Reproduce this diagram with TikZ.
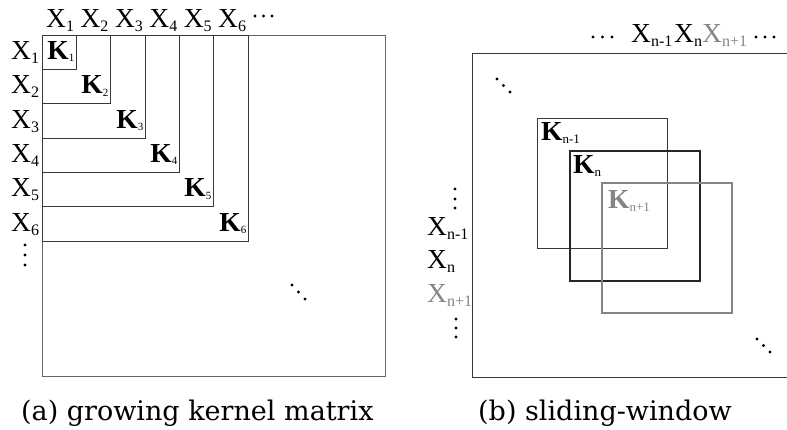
\documentclass[tikz,border=0pt]{standalone}
\usepackage{fontspec}
\newfontfamily\tmsfont{Liberation Serif}
\newfontfamily\capfont{DejaVu Serif}
\newcommand\Xlab[1]{X\raisebox{-4pt}{\fontsize{16}{16}\selectfont #1}}
\newcommand\Klab[1]{\textbf{K}\raisebox{-2.5pt}{\fontsize{11}{11}\selectfont #1}}
\newcommand\Klabb[1]{\textbf{K}\raisebox{-3pt}{\fontsize{13}{13}\selectfont #1}}
\definecolor{ln}{gray}{0.22}
\definecolor{lnlight}{gray}{0.4}
\definecolor{gr}{gray}{0.52}
\tikzset{
  lab/.style={font=\tmsfont\fontsize{27.5}{27.5}\selectfont, inner sep=0pt, anchor=base west},
  labe/.style={lab, anchor=base east},
  captext/.style={font=\capfont\fontsize{27}{27}\selectfont, inner sep=0pt, anchor=base west},
  dotc/.style={fill=black},
  nest/.style={draw=ln, line width=1.45pt},
  outer/.style={draw=lnlight, line width=1.45pt},
  winprev/.style={draw=ln, line width=1.2pt},
  wincur/.style={draw=black!85, line width=2.4pt},
  winnext/.style={draw=gr, line width=2pt}
}
\begin{document}
\begin{tikzpicture}[x=1pt,y=-1pt]
\useasboundingbox (0,0) rectangle (787,429);
% ---------- (a) growing kernel matrix ----------
\draw[outer] (42.5,35.5) rectangle (385.5,376.5);
\foreach \i in {1,...,6}{
  \pgfmathsetmacro\rgt{floor(42+34.4*\i)+0.5}
  \pgfmathsetmacro\bot{floor(35+34.4*\i)+0.5}
  \pgfmathsetmacro\bas{35+34.4*(\i-0.5)+7}
  \pgfmathsetmacro\tpos{46+34.4*(\i-1)}
  \draw[nest] (42.5,35.5) rectangle (\rgt,\bot);
  \node[lab] (top\i) at (\tpos,27) {\Xlab{\i}};
  \node[lab] (row\i) at (11,\bas) {\Xlab{\i}};
  \node[labe] (K\i) at (\rgt-2,\bas) {\Klab{\i}};
}
\foreach \x in {255,263.5,272}{\fill[dotc] (\x,16) circle (1.6pt);}
\foreach \y in {245,255,265}{\fill[dotc] (25,\y) circle (1.6pt);}
\fill[dotc] (292,285) circle (1.6pt);
\fill[dotc] (298.5,292) circle (1.6pt);
\fill[dotc] (305,299) circle (1.6pt);
\node[captext] (capa) at (21,420) {(a) growing kernel matrix};
% ---------- (b) sliding-window ----------
\draw[draw=ln, line width=1.45pt] (787,53.5) -- (472.5,53.5) -- (472.5,377.5) -- (787,377.5);
\draw[winprev] (537.5,118.5) rectangle (667.5,248.5);
\draw[wincur] (570,151) rectangle (700,281);
\draw[winnext] (602,183) rectangle (732,313);
\foreach \x in {593,602.5,612}{\fill[dotc] (\x,37) circle (1.6pt);}
\node[lab] (tXa) at (631,42) {\Xlab{n-1}};
\node[lab] (tXb) at (674,42) {\Xlab{n}};
\node[lab, text=gr] (tXc) at (702,42) {\Xlab{n+1}};
\foreach \x in {756,765,774}{\fill[dotc] (\x,37) circle (1.6pt);}
\node[lab] (lXa) at (427,235) {\Xlab{n-1}};
\node[lab] (lXb) at (427,268) {\Xlab{n}};
\node[lab, text=gr] (lXc) at (427,302) {\Xlab{n+1}};
\foreach \y in {189,199,208}{\fill[dotc] (455,\y) circle (1.6pt);}
\foreach \y in {319,328,337}{\fill[dotc] (456,\y) circle (1.6pt);}
\fill[dotc] (497,79) circle (1.6pt);
\fill[dotc] (503.5,85.5) circle (1.6pt);
\fill[dotc] (510,92) circle (1.6pt);
\fill[dotc] (757,339) circle (1.6pt);
\fill[dotc] (763.5,345.5) circle (1.6pt);
\fill[dotc] (770,352) circle (1.6pt);
\node[lab] (Kp) at (541,140) {\Klabb{n-1}};
\node[lab] (Kc) at (573,173) {\Klabb{n}};
\node[lab, text=gr] (Kn) at (608,208) {\Klabb{n+1}};
\node[captext] (capb) at (478,420) {(b) sliding-window};
\end{tikzpicture}
\end{document}
